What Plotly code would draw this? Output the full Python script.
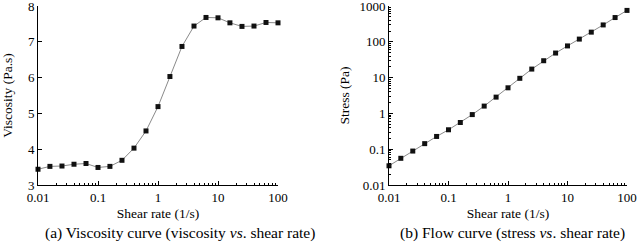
import plotly.graph_objects as go

shear_rate = [0.01, 0.0158, 0.0251, 0.0398, 0.0631, 0.1, 0.158, 0.251, 0.398, 0.631,
              1.0, 1.58, 2.51, 3.98, 6.31, 10, 15.8, 25.1, 39.8, 63.1, 100]
viscosity = [3.44, 3.52, 3.53, 3.58, 3.60, 3.49, 3.52, 3.69, 4.03, 4.51,
             5.19, 6.03, 6.87, 7.44, 7.68, 7.67, 7.53, 7.43, 7.44, 7.54, 7.53]
stress = [0.0344, 0.0557, 0.0887, 0.143, 0.227, 0.349, 0.557, 0.927, 1.60, 2.85,
          5.19, 9.55, 17.3, 29.6, 48.5, 76.7, 119, 186, 296, 476, 753]

x_ticks = [0.01, 0.1, 1, 10, 100]
x_ticktext = ["0.01", "0.1", "1", "10", "100"]
stress_ticks = [0.01, 0.1, 1, 10, 100, 1000]
stress_ticktext = ["0.01", "0.1", "1", "10", "100", "1000"]

x_minor = [m * d for d in [0.01, 0.1, 1, 10] for m in range(2, 10)]
y_minor = [m * d for d in [0.01, 0.1, 1, 10, 100] for m in range(2, 10)]

FONT = "Liberation Serif"
line_style = dict(color="#8a8a8a", width=1)
marker_style = dict(symbol="square", size=5, color="#111111")

fig = go.Figure()
fig.add_trace(go.Scatter(x=shear_rate, y=viscosity, mode="lines+markers",
                         line=line_style, marker=marker_style, xaxis="x", yaxis="y",
                         showlegend=False, cliponaxis=False, hoverinfo="skip"))
fig.add_trace(go.Scatter(x=shear_rate, y=stress, mode="lines+markers",
                         line=line_style, marker=marker_style, xaxis="x2", yaxis="y2",
                         showlegend=False, cliponaxis=False, hoverinfo="skip"))

W, H = 637, 248
common_axis = dict(showline=True, linecolor="black", linewidth=1, showgrid=False,
                   zeroline=False, ticks="inside", ticklen=4, tickcolor="black",
                   automargin=False, ticklabeloverflow="allow",
                   tickfont=dict(family=FONT, size=13, color="black"))
title_font = dict(family=FONT, size=13.5, color="black")

ydom = [1 - 185 / H, 1 - 6 / H]
fig.update_layout(
    width=W, height=H, margin=dict(l=0, r=0, t=0, b=0),
    paper_bgcolor="white", plot_bgcolor="white",
    font=dict(family=FONT, color="black"),
    xaxis=dict(domain=[38 / W, 278 / W], type="log", range=[-2, 2], anchor="y",
               tickvals=x_ticks, ticktext=x_ticktext,
               minor=dict(tickvals=x_minor, ticks="inside", ticklen=2, tickcolor="black", showgrid=False),
               title=dict(text="Shear rate (1/s)", font=title_font, standoff=4),
               **common_axis),
    yaxis=dict(domain=ydom, range=[3, 8], dtick=1, anchor="x",
               title=dict(text="Viscosity (Pa.s)", font=title_font, standoff=12),
               **common_axis),
    xaxis2=dict(domain=[389 / W, 627 / W], type="log", range=[-2, 2], anchor="y2",
                tickvals=x_ticks, ticktext=x_ticktext,
                minor=dict(tickvals=x_minor, ticks="inside", ticklen=2, tickcolor="black", showgrid=False),
                title=dict(text="Shear rate (1/s)", font=title_font, standoff=4),
                **common_axis),
    yaxis2=dict(domain=ydom, type="log", range=[-2, 3], anchor="x2",
                tickvals=stress_ticks, ticktext=stress_ticktext,
                minor=dict(tickvals=y_minor, ticks="inside", ticklen=2, tickcolor="black", showgrid=False),
                title=dict(text="Stress (Pa)", font=title_font, standoff=6),
                **common_axis),
    annotations=[
        dict(text="(a) Viscosity curve (viscosity <i>vs</i>. shear rate)", x=180 / W, y=1 - 233 / H,
             xref="paper", yref="paper", xanchor="center", yanchor="middle", showarrow=False,
             font=dict(family=FONT, size=15.5)),
        dict(text="(b) Flow curve (stress <i>vs</i>. shear rate)", x=512 / W, y=1 - 233 / H,
             xref="paper", yref="paper", xanchor="center", yanchor="middle", showarrow=False,
             font=dict(family=FONT, size=15.5)),
    ],
)

fig.write_html("out.html", config={"displayModeBar": False},
               post_script="document.body.style.margin='0';document.body.style.overflow='hidden';")
